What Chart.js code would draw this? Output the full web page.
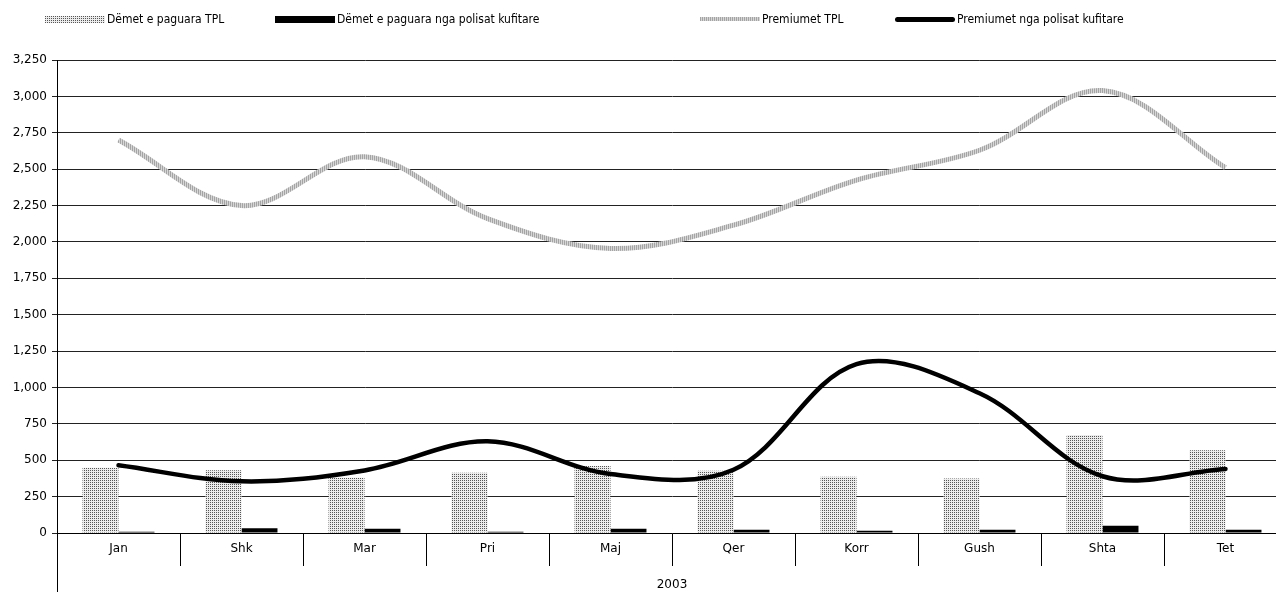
<!DOCTYPE html>
<html>
<head>
<meta charset="utf-8">
<script src="https://cdn.jsdelivr.net/npm/chart.js@4"></script>
<style>
  body { margin: 0; overflow: hidden; background: #fff; }
  #wrap { position: absolute; left: 0; top: 0; width: 1288px; height: 592px; }
  .leg { position: absolute; top: 12px; font: 12px 'DejaVu Sans Condensed', 'DejaVu Sans', sans-serif; color: #000; white-space: nowrap; display: flex; align-items: center; }
  .leg span.box { display: inline-block; width: 60px; margin-right: 2px; }
</style>
</head>
<body>
<div id="wrap"><canvas id="chart1"></canvas></div>
<div class="leg" style="left:45px"><span class="box" id="lb0" style="height:7px"></span>Dëmet e paguara TPL</div>
<div class="leg" style="left:275px"><span class="box" style="height:7px;background:#000"></span>Dëmet e paguara nga polisat kufitare</div>
<div class="leg" style="left:700px"><span class="box" id="lb2" style="height:4px"></span>Premiumet TPL</div>
<div class="leg" style="left:895px"><span class="box" style="height:5px;background:#000;border-radius:3px"></span>Premiumet nga polisat kufitare</div>
<script>
var months = ['Jan', 'Shk', 'Mar', 'Pri', 'Maj', 'Qer', 'Korr', 'Gush', 'Shta', 'Tet'];
var yearLabel = '2003';
var demetTPL = [448, 432, 380, 414, 461, 427, 386, 375, 673, 569];
var demetKufi = [8, 32, 30, 8, 30, 22, 15, 22, 50, 22];
var premTPL = [2700, 2250, 2585, 2160, 1955, 2115, 2425, 2630, 3040, 2510];
var premKufi = [465, 355, 430, 630, 405, 435, 1160, 960, 390, 440];
var seriesNames = ['Dëmet e paguara TPL', 'Dëmet e paguara nga polisat kufitare', 'Premiumet TPL', 'Premiumet nga polisat kufitare'];

// little canvases used as fill patterns
function makePattern(w, h, draw) {
  var c = document.createElement('canvas');
  c.width = w; c.height = h;
  draw(c.getContext('2d'));
  return c;
}
var dotTile = makePattern(2, 2, function (g) {
  g.fillStyle = '#ececec'; g.fillRect(0, 0, 2, 2);
  g.fillStyle = '#555'; g.fillRect(0, 0, 1, 1);
});
var stripeTile = makePattern(2, 2, function (g) {
  g.fillStyle = '#d6d6d6'; g.fillRect(0, 0, 2, 2);
  g.fillStyle = '#a4a4a4'; g.fillRect(0, 0, 1, 2);
});
document.getElementById('lb0').style.background = 'url(' + dotTile.toDataURL() + ')';
document.getElementById('lb2').style.background = 'url(' + stripeTile.toDataURL() + ')';

var ctx = document.getElementById('chart1').getContext('2d');
var dotPattern = ctx.createPattern(dotTile, 'repeat');
var stripePattern = ctx.createPattern(stripeTile, 'repeat');

Chart.defaults.font.family = "'DejaVu Sans', sans-serif";
Chart.defaults.font.size = 12;
Chart.defaults.color = '#000';

var groupLine = {
  id: 'groupLine',
  afterDraw: function (chart) {
    var c = chart.ctx, x = chart.scales.x.left;
    c.save();
    c.strokeStyle = '#000';
    c.lineWidth = 1;
    c.beginPath();
    c.moveTo(x + 0.5, chart.chartArea.bottom);
    c.lineTo(x + 0.5, chart.height);
    c.stroke();
    c.restore();
  }
};

new Chart(ctx, {
  type: 'bar',
  data: {
    labels: months,
    datasets: [
      { label: seriesNames[0], data: demetTPL, backgroundColor: dotPattern, order: 1,
        barPercentage: 1, categoryPercentage: 0.585 },
      { label: seriesNames[1], data: demetKufi, backgroundColor: '#000', order: 1,
        barPercentage: 1, categoryPercentage: 0.585 },
      { type: 'line', label: seriesNames[2], data: premTPL, borderColor: stripePattern,
        borderWidth: 5, pointRadius: 0, tension: 0.35, fill: false, order: 0 },
      { type: 'line', label: seriesNames[3], data: premKufi, borderColor: '#000',
        borderWidth: 4.5, pointRadius: 0, tension: 0.35, fill: false, order: 0,
        borderCapStyle: 'round' }
    ]
  },
  options: {
    responsive: true,
    maintainAspectRatio: false,
    animation: false,
    locale: 'en-US',
    layout: { padding: { top: 60, right: 1, left: 0, bottom: 0 } },
    plugins: { legend: { display: false }, tooltip: { enabled: false } },
    scales: {
      x: {
        grid: { offset: true, drawOnChartArea: false, tickLength: 33, color: '#000' },
        border: { color: '#000' },
        ticks: { padding: -24, maxRotation: 0 },
        title: { display: true, text: yearLabel, padding: { top: 0, bottom: 0 } },
        afterFit: function (s) { s.height = 59; }
      },
      y: {
        min: 0, max: 3250,
        ticks: { stepSize: 250, padding: 5 },
        grid: { color: '#222', tickLength: 5 },
        border: { color: '#000' },
        afterFit: function (s) { s.width = 57; }
      }
    }
  },
  plugins: [groupLine]
});
</script>
</body>
</html>
